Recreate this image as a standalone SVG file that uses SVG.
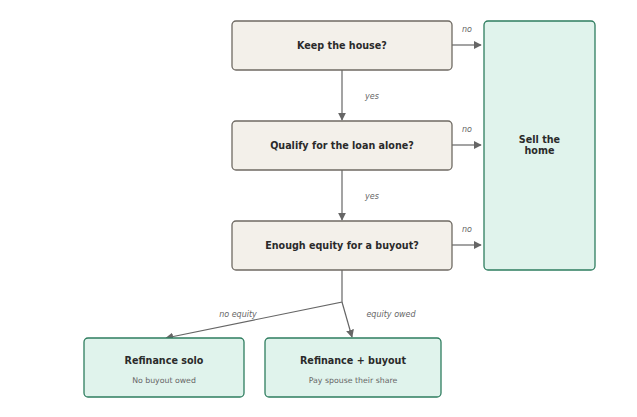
<svg xmlns="http://www.w3.org/2000/svg" width="637" height="417" viewBox="0 0 637 417">
<style>
.q{fill:#f3f0ea;stroke:#6f6a63;stroke-width:1.3}
.o{fill:#e0f3ec;stroke:#2e7d5f;stroke-width:1.3}
.t{font-family:"DejaVu Sans",sans-serif;font-weight:bold;font-size:9.6px;fill:#2a2a2a;text-anchor:middle}
.s{font-family:"DejaVu Sans",sans-serif;font-size:7.8px;fill:#666;text-anchor:middle}
.l{font-family:"DejaVu Sans",sans-serif;font-style:italic;font-size:8px;fill:#666;text-anchor:middle}
.e{fill:none;stroke:#666;stroke-width:1.2}
</style>
<defs>
<marker id="a" viewBox="0 0 10 10" refX="9" refY="5" markerWidth="8" markerHeight="8" markerUnits="userSpaceOnUse" orient="auto"><path d="M0,0L10,5L0,10z" fill="#666"/></marker>
</defs>
<rect width="637" height="417" fill="#fff"/>
<g id="connectors">
<path class="e" d="M342,70V120" marker-end="url(#a)"/>
<path class="e" d="M342,170V220" marker-end="url(#a)"/>
<path class="e" d="M452,45H481" marker-end="url(#a)"/>
<path class="e" d="M452,145H481" marker-end="url(#a)"/>
<path class="e" d="M452,245H481" marker-end="url(#a)"/>
<path class="e" d="M342,270V302L166,338" marker-end="url(#a)"/>
<path class="e" d="M342,302L352,337" marker-end="url(#a)"/>
<text class="l" x="372" y="99">yes</text>
<text class="l" x="372" y="199">yes</text>
<text class="l" x="467" y="32">no</text>
<text class="l" x="467" y="132">no</text>
<text class="l" x="467" y="232">no</text>
<text class="l" x="238" y="317">no equity</text>
<text class="l" x="391" y="317">equity owed</text>
</g>
<g id="keep"><rect class="q" x="232" y="21" width="220" height="49" rx="4"/><text class="t" x="342" y="48.5">Keep the house?</text></g>
<g id="qualify"><rect class="q" x="232" y="121" width="220" height="49" rx="4"/><text class="t" x="342" y="148.5">Qualify for the loan alone?</text></g>
<g id="equity"><rect class="q" x="232" y="221" width="220" height="49" rx="4"/><text class="t" x="342" y="248.5">Enough equity for a buyout?</text></g>
<g id="sell"><rect class="o" x="484" y="21" width="111" height="249" rx="4"/><text class="t" x="539.5" y="143">Sell the</text><text class="t" x="539.5" y="154">home</text></g>
<g id="solo"><rect class="o" x="84" y="338" width="160" height="59" rx="4"/><text class="t" x="164" y="363.5">Refinance solo</text><text class="s" x="164" y="382.5">No buyout owed</text></g>
<g id="buyout"><rect class="o" x="265" y="338" width="176" height="59" rx="4"/><text class="t" x="353" y="363.5">Refinance + buyout</text><text class="s" x="353" y="382.5">Pay spouse their share</text></g>
</svg>
